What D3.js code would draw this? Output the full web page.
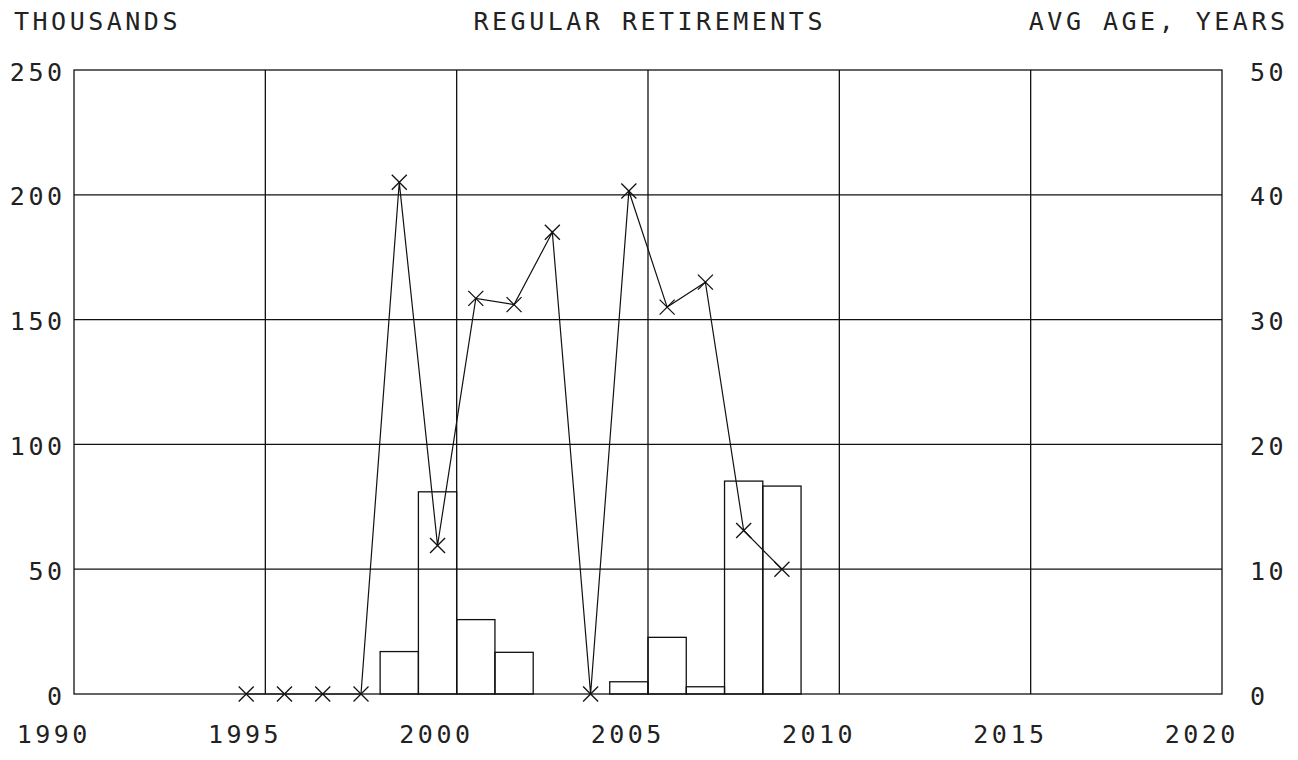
<!DOCTYPE html>
<html>
<head>
<meta charset="utf-8">
<script src="https://cdn.jsdelivr.net/npm/d3@7/dist/d3.min.js"></script>
<style>
  html, body { margin: 0; padding: 0; background: #fff; }
  svg text { font-family: "DejaVu Sans Mono", "Liberation Mono", monospace; fill: #222; }
</style>
</head>
<body>
<svg id="chart" width="1298" height="760"></svg>
<script>
// ---- data ----
const years = [1995, 1996, 1997, 1998, 1999, 2000, 2001, 2002, 2003, 2004, 2005, 2006, 2007, 2008, 2009];
const retirements = [0, 0, 0, 0, 17, 81, 29.8, 16.7, 0, 0, 4.9, 22.7, 2.9, 85.3, 83.3]; // thousands
const avgAge = [0, 0, 0, 0, 41.0, 11.9, 31.7, 31.2, 37.0, 0, 40.3, 31.0, 33.0, 13.1, 10.0]; // years
const xTicks = [1990, 1995, 2000, 2005, 2010, 2015, 2020];
const leftTicks = [0, 50, 100, 150, 200, 250];
const rightTicks = [0, 10, 20, 30, 40, 50];
const titleLeft = "THOUSANDS";
const titleCenter = "REGULAR RETIREMENTS";
const titleRight = "AVG AGE, YEARS";

// ---- layout ----
const svg = d3.select("#chart");
const L = 74, R = 1222, T = 70, B = 694;
const x = d3.scaleLinear().domain([1990, 2020]).range([L, R]);
const yL = d3.scaleLinear().domain([0, 250]).range([B, T]);
const yR = d3.scaleLinear().domain([0, 50]).range([B, T]);
const stroke = "#111", sw = 1.3;
const fontSize = 25, ls = 3.5;

// grid lines
svg.append("g").selectAll("line.h").data(leftTicks.slice(1, -1)).join("line")
  .attr("x1", L).attr("x2", R).attr("y1", d => yL(d)).attr("y2", d => yL(d))
  .attr("stroke", stroke).attr("stroke-width", sw);
svg.append("g").selectAll("line.v").data(xTicks.slice(1, -1)).join("line")
  .attr("x1", d => x(d)).attr("x2", d => x(d)).attr("y1", T).attr("y2", B)
  .attr("stroke", stroke).attr("stroke-width", sw);

// bars (each year's bar spans the preceding year interval)
const barData = years.map((y, i) => ({ y, v: retirements[i] })).filter(d => d.v > 0);
svg.append("g").selectAll("rect").data(barData).join("rect")
  .attr("x", d => x(d.y - 1)).attr("width", d => x(d.y) - x(d.y - 1))
  .attr("y", d => yL(d.v)).attr("height", d => yL(0) - yL(d.v))
  .attr("fill", "none").attr("stroke", stroke).attr("stroke-width", sw);

// frame
svg.append("rect").attr("x", L).attr("y", T).attr("width", R - L).attr("height", B - T)
  .attr("fill", "none").attr("stroke", stroke).attr("stroke-width", sw);

// line of average age
const pts = years.map((y, i) => ({ y, v: avgAge[i] }));
const line = d3.line().x(d => x(d.y - 0.5)).y(d => yR(d.v));
svg.append("path").datum(pts).attr("d", line)
  .attr("fill", "none").attr("stroke", stroke).attr("stroke-width", 1.2);
const s = 7.5;
const marks = svg.append("g").selectAll("g").data(pts).join("g")
  .attr("transform", d => `translate(${x(d.y - 0.5)},${yR(d.v)})`);
marks.append("line").attr("x1", -s).attr("y1", -s).attr("x2", s).attr("y2", s)
  .attr("stroke", stroke).attr("stroke-width", 1.3);
marks.append("line").attr("x1", -s).attr("y1", s).attr("x2", s).attr("y2", -s)
  .attr("stroke", stroke).attr("stroke-width", 1.3);

// axis labels
function txt(sel) { return sel.attr("font-size", fontSize).attr("letter-spacing", ls); }
svg.append("g").selectAll("text").data(leftTicks).join("text").call(txt)
  .attr("x", 62 + ls).attr("y", d => yL(d) + 10.5).attr("text-anchor", "end").text(d => d);
svg.append("g").selectAll("text").data(rightTicks).join("text").call(txt)
  .attr("x", 1250).attr("y", d => yR(d) + 10.5).attr("text-anchor", "start").text(d => d);
svg.append("g").selectAll("text").data(xTicks).join("text").call(txt)
  .attr("x", d => x(d) - 22 + ls / 2).attr("y", 743).attr("text-anchor", "middle").text(d => d);

// titles
svg.append("text").call(txt).attr("x", 14).attr("y", 30).text(titleLeft);
svg.append("text").call(txt).attr("x", (L + R) / 2 + ls / 2).attr("y", 30).attr("text-anchor", "middle").text(titleCenter);
svg.append("text").call(txt).attr("x", 1285 + ls).attr("y", 30).attr("text-anchor", "end").text(titleRight);
</script>
</body>
</html>
